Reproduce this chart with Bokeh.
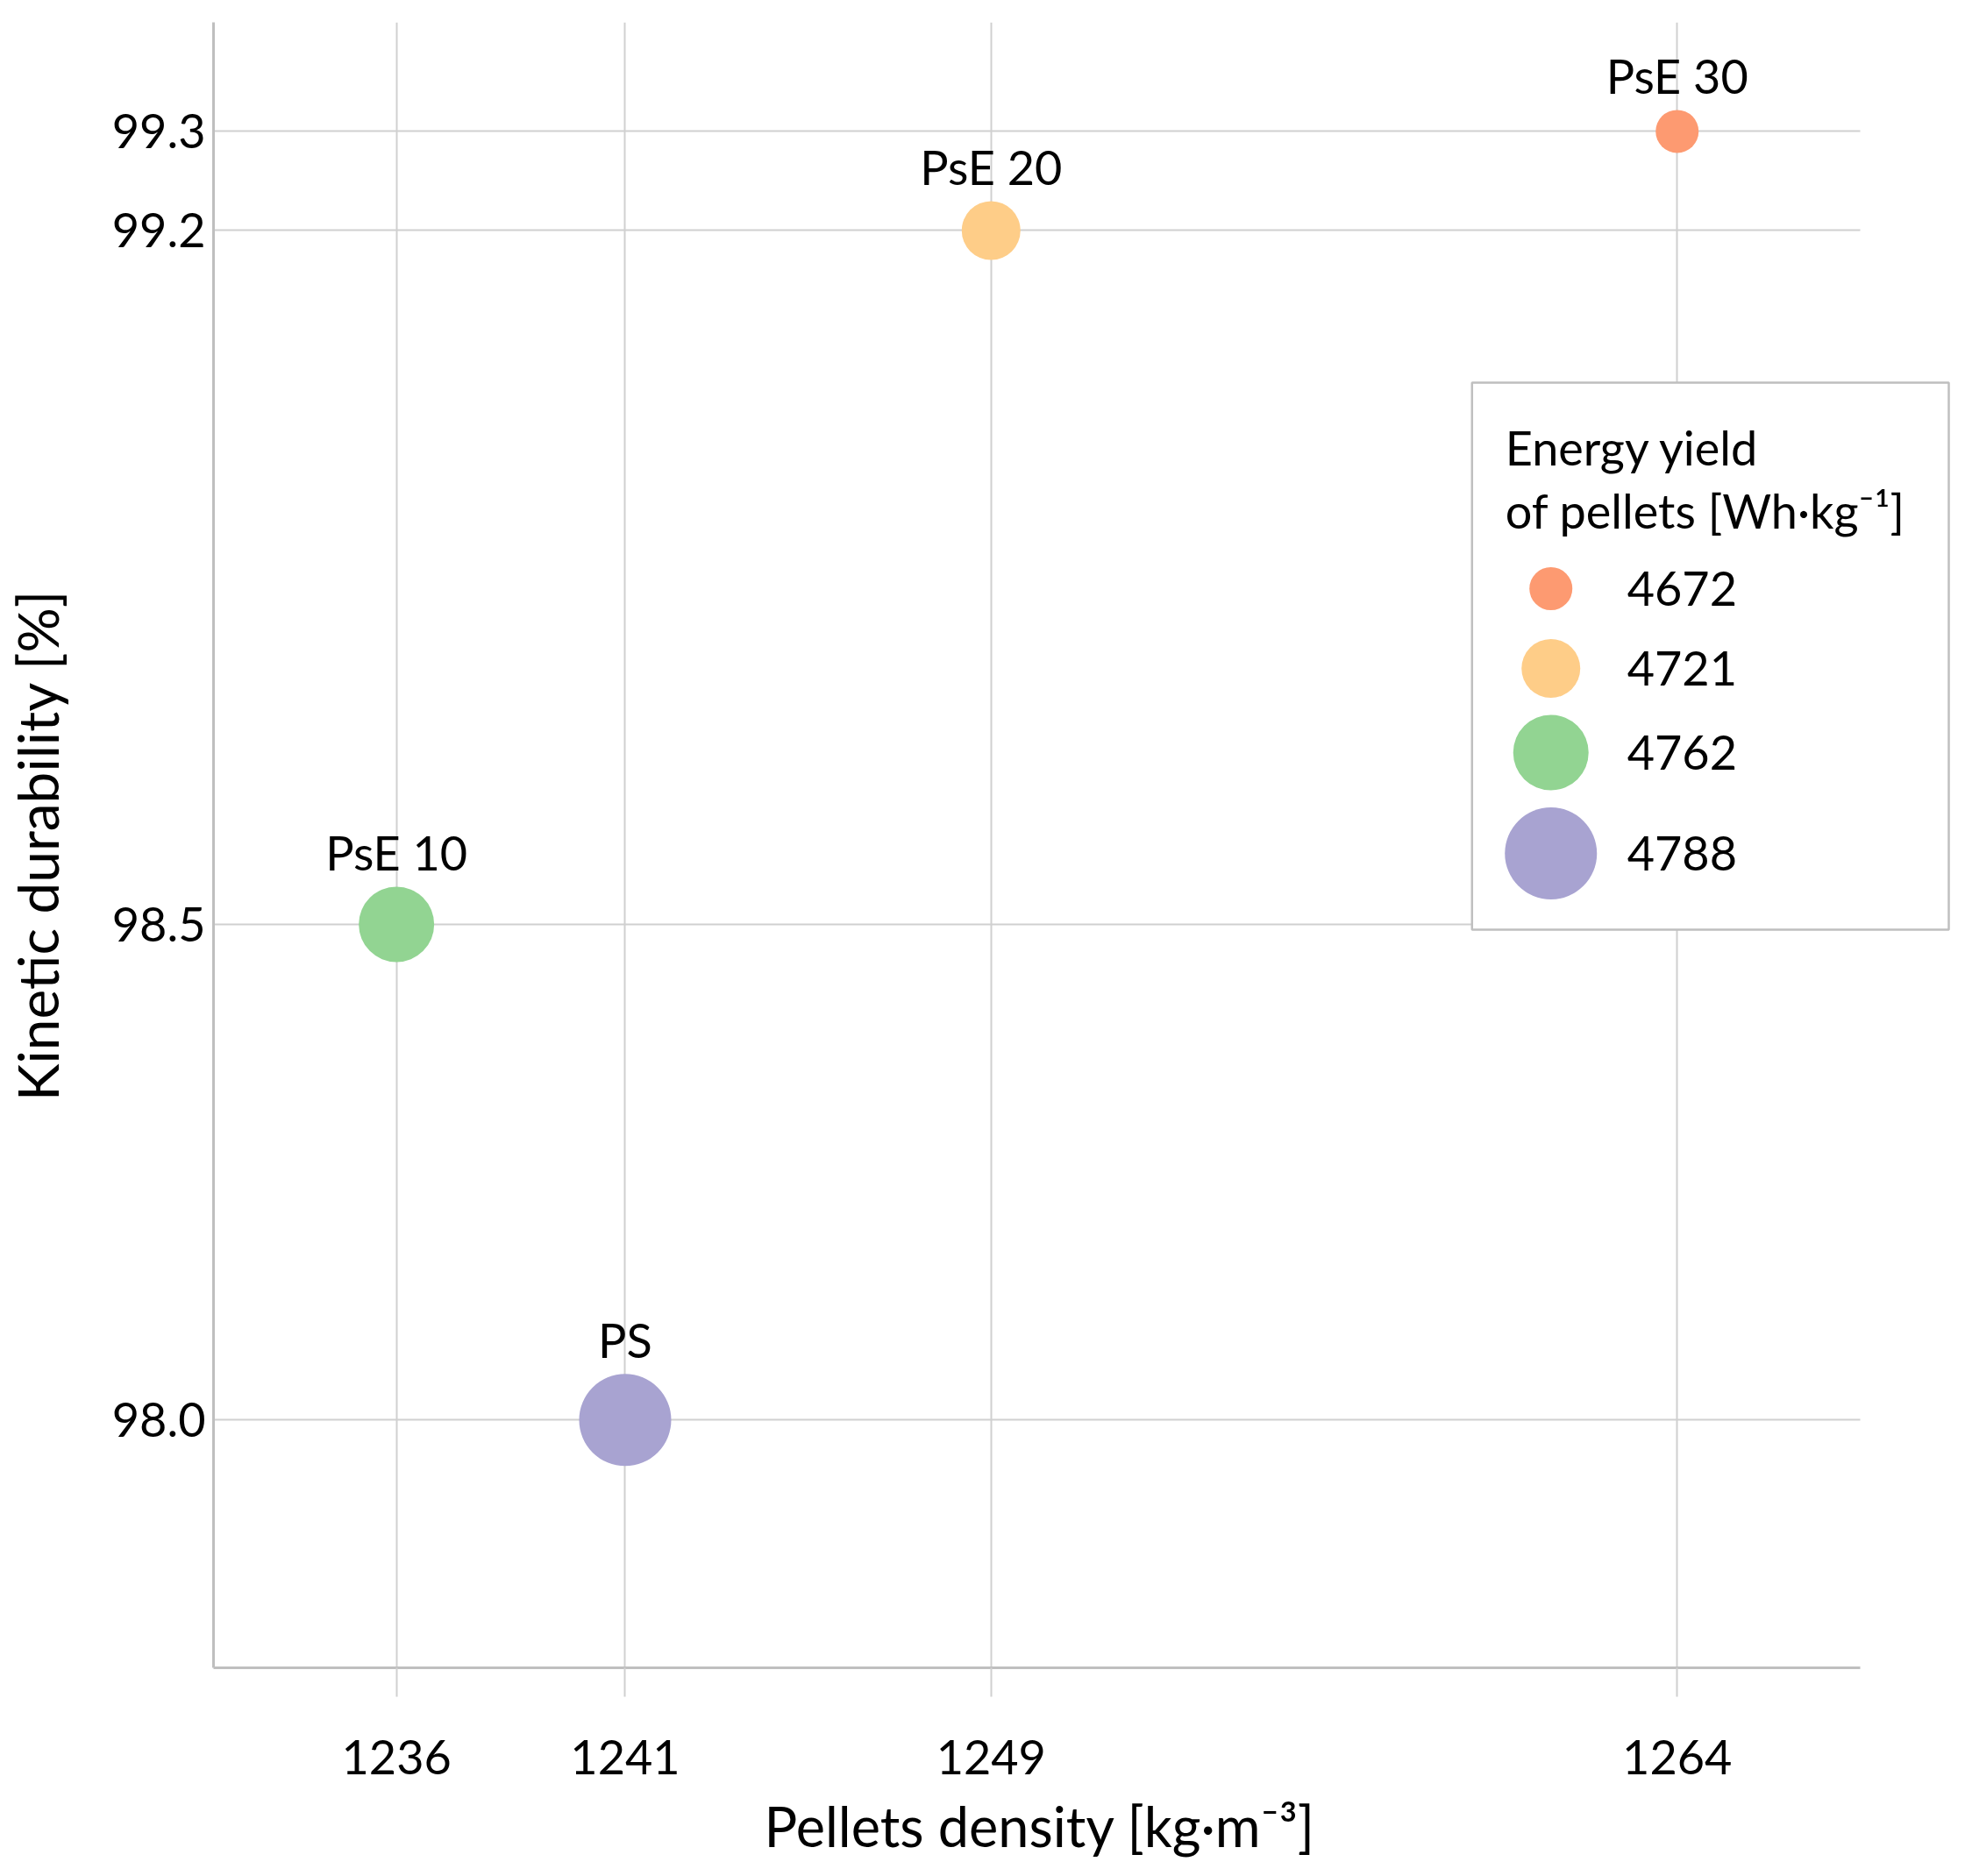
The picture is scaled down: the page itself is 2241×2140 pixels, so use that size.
from bokeh.plotting import figure
from bokeh.models import Range1d, FixedTicker, NumeralTickFormatter, ColumnDataSource, Title
from bokeh.core.properties import value
from bokeh.embed import file_html
from bokeh.resources import INLINE

# data
samples = ["PsE 30", "PsE 20", "PsE 10", "PS"]
density = [1264, 1249, 1236, 1241]          # kg/m3
durability = [99.3, 99.2, 98.5, 98.0]       # %
energy_yield = [4672, 4721, 4762, 4788]     # Wh/kg

# styling
colors = ["#FD9A71", "#FECD88", "#92D492", "#A8A3D1"]
bubble_px = [49, 67, 86, 105]
FONT = "Lato"
GRID = "#D0D0D0"
AXIS = "#BFBFBF"

W, H = 2232, 2138
LEFT, RIGHT, TOP, BOTTOM = 242, 0, 25, 236
X0, X1 = 1232, 1270.13
Y0, Y1 = 97.75, 99.41

p = figure(width=W, height=H, x_range=Range1d(X0, X1), y_range=Range1d(Y0, Y1),
           output_backend="svg", toolbar_location=None,
           min_border_left=LEFT, min_border_right=RIGHT,
           min_border_top=TOP, min_border_bottom=BOTTOM)
p.outline_line_color = None
p.background_fill_color = "white"
p.border_fill_color = "white"

# axes
p.xaxis.ticker = FixedTicker(ticks=sorted(density))
p.yaxis.ticker = FixedTicker(ticks=sorted(durability))
p.yaxis.formatter = NumeralTickFormatter(format="0.0")
p.xaxis.bounds = (1232, 1268)
for ax in (p.xaxis, p.yaxis):
    ax.axis_line_color = AXIS
    ax.axis_line_width = 3
    ax.minor_tick_line_color = None
    ax.major_tick_in = 0
    ax.major_label_text_font = FONT
    ax.major_label_text_font_size = "54px"
    ax.major_label_text_color = "black"
    ax.axis_label_text_font = FONT
    ax.axis_label_text_font_size = "64px"
    ax.axis_label_text_font_style = "normal"
    ax.axis_label_text_color = "black"
p.xaxis.major_tick_out = 33
p.xaxis.major_tick_line_color = GRID
p.xaxis.major_tick_line_width = 2
p.xaxis.major_label_standoff = 49
p.yaxis.major_tick_out = 0
p.yaxis.major_tick_line_color = None
p.yaxis.major_label_standoff = 9
p.yaxis.axis_label = "Kinetic durability [%]"
p.yaxis.axis_label_standoff = 44

# x label sits under the bounded axis, not the widened frame
xlab = Title(text="Pellets density  [kg·m⁻³]", align="left", offset=628,
             standoff=32, text_font=FONT, text_font_size="63px",
             text_font_style="normal", text_color="black")
p.add_layout(xlab, "below")

p.xgrid.ticker = FixedTicker(ticks=sorted(density))
p.ygrid.ticker = FixedTicker(ticks=sorted(durability))
p.grid.grid_line_color = GRID
p.grid.grid_line_width = 2
p.ygrid.cross_bounds = (1232, 1268)


# page pixel -> data, only for placing the legend box
def px_x(px):
    return X0 + (px - LEFT) * (X1 - X0) / (W - LEFT - RIGHT)


def px_y(py):
    return Y1 - (py - TOP) * (Y1 - Y0) / (H - TOP - BOTTOM)


# legend background (drawn above the grid)
p.quad(left=px_x(1678), right=px_x(2222), top=px_y(436), bottom=px_y(1060),
       fill_color="white", line_color=AXIS, line_width=2.5)

src = ColumnDataSource(dict(
    x=density, y=durability, name=samples, color=colors, size=bubble_px,
    off=[-(s / 2 + 39) for s in bubble_px],
))
p.scatter("x", "y", size="size", fill_color="color", line_color=None, source=src)
p.text("x", "y", text="name", y_offset="off", source=src,
       text_font=value(FONT), text_font_size="54px", text_color="black",
       text_align="center", text_baseline="alphabetic")

# legend contents
leg_rows = [671, 762, 858, 973]
leg = ColumnDataSource(dict(
    x=[px_x(1768)] * 4, y=[px_y(r) for r in leg_rows],
    tx=[px_x(1855)] * 4, label=[str(e) for e in energy_yield],
    color=colors, size=bubble_px,
))
p.scatter("x", "y", size="size", fill_color="color", line_color=None, source=leg)
p.text("tx", "y", text="label", source=leg, text_font=value(FONT),
       text_font_size="54px", text_color="black", text_baseline="middle")
p.text(x=[px_x(1716)] * 2, y=[px_y(510), px_y(582)],
       text=["Energy yield", "of pellets [Wh·kg⁻¹]"],
       text_font=value(FONT), text_font_size="54px", text_color="black",
       text_baseline="alphabetic")

open("out.html", "w").write(file_html(p, INLINE))
